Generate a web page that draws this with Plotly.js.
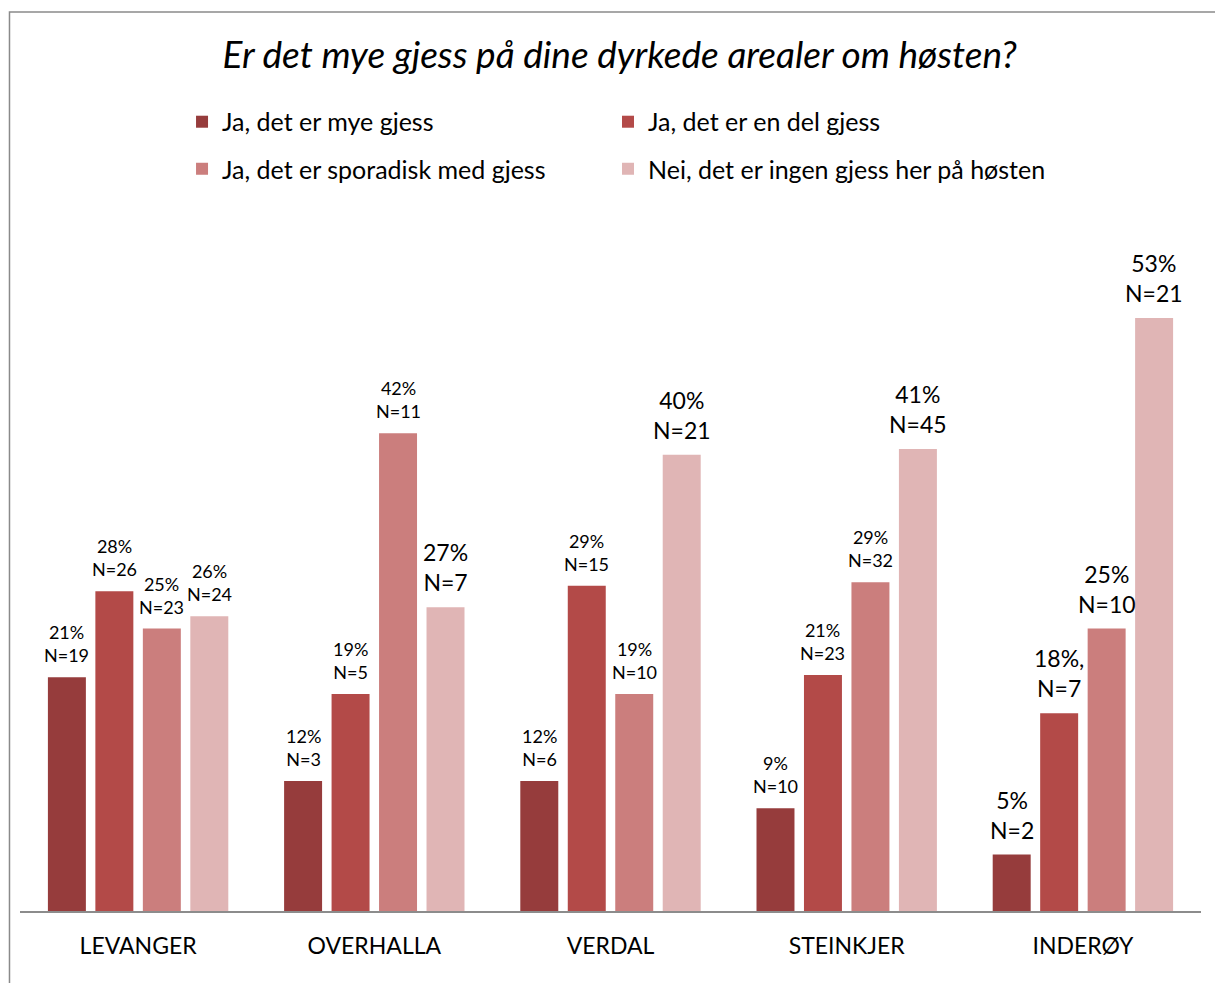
<!DOCTYPE html>
<html>
<head>
<meta charset="utf-8">
<script src="https://cdn.plot.ly/plotly-3.0.1.min.js"></script>
<style>html,body{margin:0;padding:0;background:#fff;}#chart{width:1215px;height:983px;}</style>
</head>
<body>
<div id="chart"></div>
<script>
// ---- data ----
const categories = ['LEVANGER', 'OVERHALLA', 'VERDAL', 'STEINKJER', 'INDERØY'];
const seriesNames = [
  'Ja, det er mye gjess',
  'Ja, det er en del gjess',
  'Ja, det er sporadisk med gjess',
  'Nei, det er ingen gjess her på høsten'
];
// bar heights (share in %)
const valMye = [20.7, 11.5, 11.5, 9.1, 5.0];
const valDel = [28.3, 19.2, 28.8, 20.9, 17.5];
const valSporadisk = [25.0, 42.3, 19.2, 29.1, 25.0];
const valIngen = [26.1, 26.9, 40.4, 40.9, 52.5];
// printed labels
const pctMye = [21, 12, 12, 9, 5];
const pctDel = [28, 19, 29, 21, 18];
const pctSporadisk = [25, 42, 19, 29, 25];
const pctIngen = [26, 27, 40, 41, 53];
const nMye = [19, 3, 6, 10, 2];
const nDel = [26, 5, 15, 23, 7];
const nSporadisk = [23, 11, 10, 32, 10];
const nIngen = [24, 7, 21, 45, 21];
const sepDel = ['', '', '', '', ','];   // "18%," as printed

// ---- styles ----
const colors = ['#963C3C', '#B34A48', '#CB7E7D', '#E0B5B5'];
const FONT = 'Lato, "Open Sans", sans-serif';
const SMALL = 18, BIG = 23;
const labelSizes = [
  [SMALL, SMALL, SMALL, SMALL, BIG],
  [SMALL, SMALL, SMALL, SMALL, BIG],
  [SMALL, SMALL, SMALL, SMALL, BIG],
  [SMALL, BIG, BIG, BIG, BIG]
];
const BARGAP = 0.196, GROUPGAP = 0.2;
// legend placement (2 x 2 grid): [x, y] in paper units
const legendPos = [[0.1372, 1.1759], [0.4979, 1.1759], [0.1372, 1.1058], [0.4979, 1.1058]];

const vals = [valMye, valDel, valSporadisk, valIngen];
const pcts = [pctMye, pctDel, pctSporadisk, pctIngen];
const ns = [nMye, nDel, nSporadisk, nIngen];
const seps = [null, sepDel, null, null];
const legendIds = ['legend', 'legend2', 'legend3', 'legend4'];

const traces = vals.map((v, j) => ({
  type: 'bar',
  name: seriesNames[j],
  x: categories,
  y: v,
  marker: {color: colors[j]},
  legend: legendIds[j],
  hoverinfo: 'skip'
}));

const annotations = [];
const slot = (1 - BARGAP) / vals.length;
vals.forEach((vs, j) => {
  vs.forEach((v, i) => {
    const s = seps[j] ? seps[j][i] : '';
    annotations.push({
      xref: 'x', yref: 'y',
      x: i + (j - (vals.length - 1) / 2) * slot,
      y: v,
      text: pcts[j][i] + '%' + s + '<br>N=' + ns[j][i],
      showarrow: false,
      xanchor: 'center', yanchor: 'bottom',
      yshift: 9,
      font: {family: FONT, size: labelSizes[j][i], color: '#000'}
    });
  });
});

const layout = {
  width: 1215, height: 983,
  margin: {l: 20, r: 14, t: 240, b: 72},
  paper_bgcolor: '#fff', plot_bgcolor: '#fff',
  barmode: 'group', bargap: BARGAP, bargroupgap: GROUPGAP,
  title: {
    text: '<i>Er det mye gjess på dine dyrkede arealer om høsten?</i>',
    font: {family: FONT, size: 37, color: '#000'},
    x: 0.51, xanchor: 'center', xref: 'container',
    y: 0.944, yanchor: 'middle', yref: 'container'
  },
  xaxis: {
    type: 'category',
    showgrid: false, zeroline: false,
    showline: true, linecolor: '#8C8C8C', linewidth: 1.5,
    ticks: '', ticklabelstandoff: 14,
    tickfont: {family: FONT, size: 23, color: '#000'},
    fixedrange: true
  },
  yaxis: {
    range: [0, 59.4],
    visible: false, showgrid: false, zeroline: false,
    fixedrange: true
  },
  annotations: annotations,
  shapes: [{
    type: 'rect', xref: 'paper', yref: 'paper',
    x0: -0.0089, x1: 1.1, y0: -0.3, y1: 1.3398,
    line: {color: '#8A8A8A', width: 1.5},
    fillcolor: 'rgba(0,0,0,0)', layer: 'below'
  }],
  showlegend: true
};

legendIds.forEach((id, j) => {
  layout[id] = {
    orientation: 'h',
    x: legendPos[j][0], xanchor: 'left',
    y: legendPos[j][1], yanchor: 'middle',
    font: {family: FONT, size: 25, color: '#000'},
    bgcolor: 'rgba(0,0,0,0)',
    itemclick: false, itemdoubleclick: false
  };
});

Plotly.newPlot('chart', traces, layout, {displayModeBar: false, staticPlot: true});
</script>
</body>
</html>
